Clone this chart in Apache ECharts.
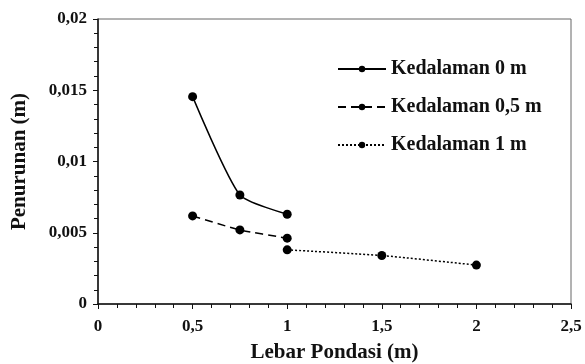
<!DOCTYPE html>
<html>
<head>
<meta charset="utf-8">
<script src="https://cdn.jsdelivr.net/npm/echarts@6/dist/echarts.min.js"></script>
<style>
  html, body { margin: 0; padding: 0; background: #fff; }
  #chart { width: 585px; height: 364px; }
</style>
</head>
<body>
<div id="chart"></div>
<script>
// Settlement vs. foundation width for three embedment depths
const seriesNames = ['Kedalaman 0 m', 'Kedalaman 0,5 m', 'Kedalaman 1 m'];
const widths0 = [0.5, 0.75, 1];
const settle0 = [0.01455, 0.00765, 0.00630];
const widths05 = [0.5, 0.75, 1];
const settle05 = [0.00618, 0.00520, 0.00462];
const widths1 = [1, 1.5, 2];
const settle1 = [0.00380, 0.00340, 0.00273];
const xTicks = [0, 0.5, 1, 1.5, 2, 2.5];
const yTicks = [0, 0.005, 0.01, 0.015, 0.02];

const FONT = '"Liberation Serif", "Times New Roman", serif';
const pairs = (xs, ys) => xs.map((x, i) => [x, ys[i]]);
const comma = v => String(v).replace('.', ',');

const chart = echarts.init(document.getElementById('chart'));
const lineSeries = (name, data, type, smooth) => ({
  name, type: 'line', data, smooth,
  symbol: 'circle', symbolSize: 9,
  itemStyle: { color: '#000' },
  lineStyle: { color: '#000', width: 1.5, type },
  z: 3
});

chart.setOption({
  animation: false,
  grid: {
    left: 98, right: 14, top: 19, bottom: 60,
    outerBoundsMode: 'none', containLabel: false,
    show: true, borderColor: '#666', borderWidth: 1
  },
  legend: {
    orient: 'vertical', left: 332, top: 54, itemGap: 18,
    itemWidth: 48, itemHeight: 8,
    textStyle: { fontFamily: FONT, fontWeight: 'bold', fontSize: 20, color: '#111' },
    data: seriesNames
  },
  xAxis: {
    type: 'value', min: xTicks[0], max: xTicks[xTicks.length - 1], interval: 0.5,
    name: 'Lebar Pondasi (m)', nameLocation: 'middle', nameGap: 38,
    nameTextStyle: { fontFamily: FONT, fontWeight: 'bold', fontSize: 21, color: '#111' },
    axisLine: { lineStyle: { color: '#111', width: 1.5 } },
    axisTick: { show: true, length: 5, lineStyle: { color: '#111' } },
    minorTick: { show: true, splitNumber: 5, length: 4, lineStyle: { color: '#111' } },
    splitLine: { show: false },
    axisLabel: { fontFamily: FONT, fontWeight: 'bold', fontSize: 17, color: '#111', margin: 14, formatter: comma }
  },
  yAxis: {
    type: 'value', min: yTicks[0], max: yTicks[yTicks.length - 1], interval: 0.005,
    name: 'Penurunan (m)', nameLocation: 'middle', nameGap: 68, nameRotate: 90,
    nameTextStyle: { fontFamily: FONT, fontWeight: 'bold', fontSize: 21, color: '#111' },
    axisLine: { show: true, lineStyle: { color: '#111', width: 1.5 } },
    axisTick: { show: true, length: 5, lineStyle: { color: '#111' } },
    minorTick: { show: true, splitNumber: 5, length: 4, lineStyle: { color: '#111' } },
    splitLine: { show: false },
    axisLabel: { fontFamily: FONT, fontWeight: 'bold', fontSize: 17, color: '#111', margin: 11, formatter: comma }
  },
  series: [
    lineSeries(seriesNames[0], pairs(widths0, settle0), 'solid', 0.2),
    lineSeries(seriesNames[1], pairs(widths05, settle05), [8, 5], 0.2),
    lineSeries(seriesNames[2], pairs(widths1, settle1), [2, 2], 0.2)
  ]
});
</script>
</body>
</html>
